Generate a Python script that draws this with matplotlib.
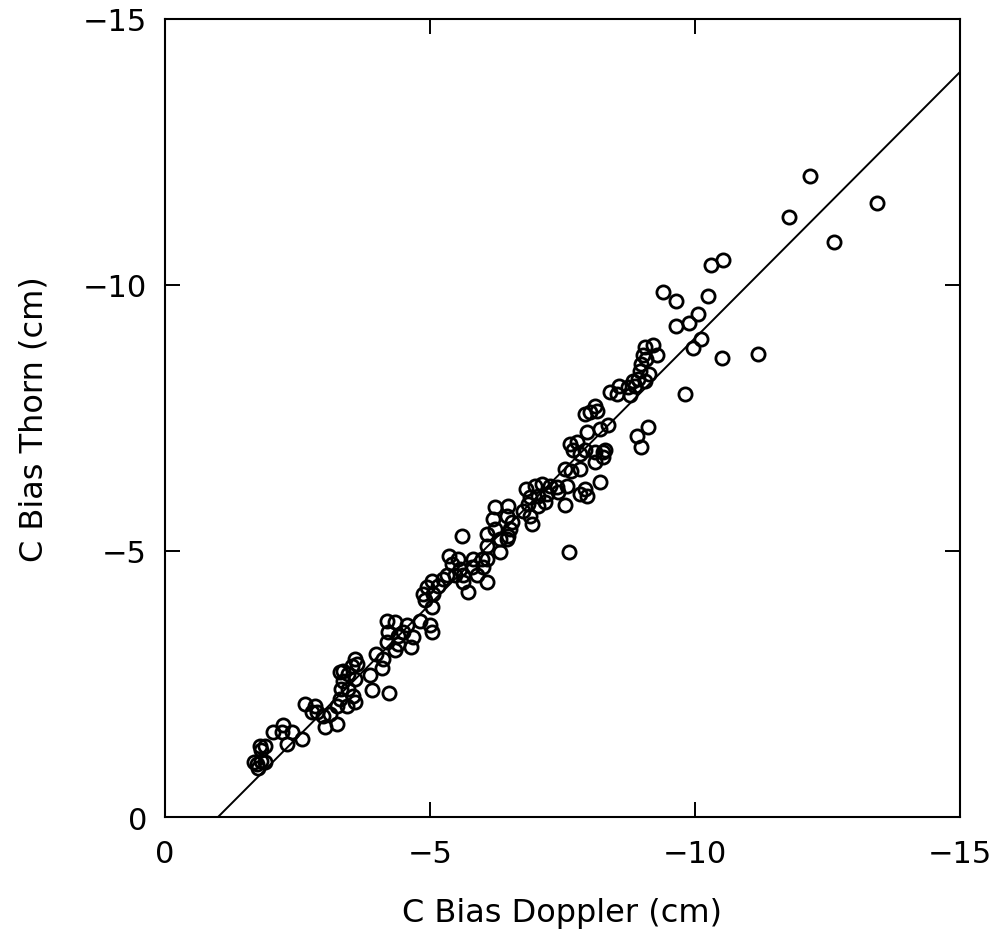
import matplotlib
matplotlib.use('Agg')
import matplotlib.pyplot as plt
import numpy as np

plt.rcParams['font.family'] = 'DejaVu Sans'

# C bias estimates (cm): Doppler vs Thorn
doppler = [
    -12.17, -13.44, -11.77, -12.62, -10.53, -10.31, -9.39, -9.65, -10.25, -10.06,
    -9.89, -9.64, -10.11, -9.97, -10.52, -11.20, -9.82,
    -9.20, -9.06, -9.29, -9.02, -9.08, -8.99, -8.96, -9.14, -8.93, -8.84,
    -8.87, -8.74, -8.57, -8.53, -8.40, -8.77, -8.11, -8.15, -7.92, -8.02,
    -7.96, -8.21, -8.36, -8.90, -9.12, -8.98, -7.92, -8.11, -8.27, -8.11,
    -7.64, -7.77, -7.70, -7.83, -8.30, -8.27, -7.55, -7.67, -7.83, -8.21,
    -6.82, -6.98, -7.11, -7.26, -7.39, -7.58, -7.42, -7.20, -7.04, -6.89,
    -7.83, -7.92, -7.96, -7.55, -7.17, -7.04, -6.85, -6.76, -6.89, -6.92,
    -6.23, -6.48, -6.19, -6.45, -6.54, -6.23, -6.07, -6.48, -6.32, -6.07,
    -6.32, -7.63,
    -5.60, -6.51, -6.45, -6.07, -5.98, -5.82, -5.79, -5.88, -6.07, -6.01,
    -5.35, -5.53, -5.41, -5.57, -5.32, -5.47, -5.63, -5.63, -5.72, -5.03,
    -5.25, -4.94, -5.16, -4.87, -5.06, -4.91, -5.03, -4.18, -4.34, -4.56,
    -4.81, -5.00, -5.03, -4.21, -4.40, -4.68, -4.18, -4.40,
    -4.50, -4.65, -4.34, -3.99, -4.12, -4.09, -3.87, -3.58, -3.62, -3.52,
    -3.36, -3.30, -3.46, -3.58, -3.36, -3.46, -3.33, -3.55, -3.58, -3.43,
    -3.30, -3.24, -3.90, -4.23, -2.64, -2.83, -2.86, -2.99, -3.11, -3.02,
    -3.24, -2.77, -2.04, -2.23, -2.20, -2.39, -2.30, -2.58, -1.79, -1.89,
    -1.82, -1.67, -1.73, -1.82, -1.89, -1.76, -9.06,
]
thorn = [
    -12.04, -11.55, -11.27, -10.81, -10.47, -10.38, -9.86, -9.70, -9.79, -9.45,
    -9.29, -9.23, -8.98, -8.81, -8.63, -8.70, -7.96,
    -8.87, -8.83, -8.68, -8.68, -8.61, -8.52, -8.39, -8.33, -8.23, -8.20,
    -8.11, -8.08, -8.11, -7.95, -7.98, -7.93, -7.73, -7.64, -7.58, -7.61,
    -7.23, -7.29, -7.36, -7.17, -7.33, -6.95, -6.89, -6.86, -6.86, -6.68,
    -7.01, -7.04, -6.89, -6.82, -6.89, -6.76, -6.54, -6.51, -6.54, -6.29,
    -6.17, -6.23, -6.26, -6.23, -6.20, -6.23, -6.10, -6.07, -6.04, -6.01,
    -6.07, -6.17, -6.04, -5.86, -5.92, -5.85, -5.88, -5.76, -5.66, -5.51,
    -5.82, -5.85, -5.60, -5.66, -5.54, -5.41, -5.32, -5.29, -5.23, -5.10,
    -4.98, -4.98,
    -5.29, -5.41, -5.23, -4.85, -4.85, -4.85, -4.69, -4.54, -4.41, -4.69,
    -4.91, -4.85, -4.76, -4.66, -4.54, -4.54, -4.54, -4.41, -4.22, -4.44,
    -4.47, -4.32, -4.35, -4.19, -4.19, -4.07, -3.94, -3.69, -3.66, -3.60,
    -3.69, -3.60, -3.47, -3.47, -3.41, -3.38, -3.28, -3.25,
    -3.47, -3.19, -3.13, -3.06, -2.97, -2.81, -2.66, -2.97, -2.88, -2.84,
    -2.75, -2.72, -2.69, -2.59, -2.56, -2.41, -2.41, -2.28, -2.16, -2.09,
    -2.22, -2.09, -2.39, -2.33, -2.12, -2.09, -1.97, -1.90, -1.94, -1.69,
    -1.75, -1.97, -1.59, -1.72, -1.59, -1.59, -1.37, -1.47, -1.34, -1.34,
    -1.25, -1.03, -1.00, -1.06, -1.03, -0.93, -8.20,
]

# fitted line: Thorn = Doppler + 1
fit_x = np.array([-1.0, -15.0])
fit_y = fit_x + 1.0

fig = plt.figure(figsize=(9.96, 9.37), dpi=100)
ax = fig.add_axes([0.1657, 0.127, 0.798, 0.8517])

ax.plot(fit_x, fit_y, color='black', linewidth=1.4)
ax.plot(doppler, thorn, linestyle='none', marker='o', markersize=9.5,
        markerfacecolor='none', markeredgecolor='black', markeredgewidth=2.0)

ax.set_xlim(0, -15)
ax.set_ylim(0, -15)
ax.set_xticks([0, -5, -10, -15])
ax.set_yticks([0, -5, -10, -15])
ax.set_xticklabels(['0', '\u22125', '\u221210', '\u221215'])
ax.set_yticklabels(['0', '\u22125', '\u221210', '\u221215'])

ax.tick_params(axis='both', direction='in', length=11, width=1.4,
               labelsize=22, top=True, right=True)
ax.tick_params(axis='x', pad=16)
ax.tick_params(axis='y', pad=13)
for s in ax.spines.values():
    s.set_linewidth(1.5)

ax.set_xlabel('C Bias Doppler (cm)', fontsize=23, labelpad=21)
ax.set_ylabel('C Bias Thorn (cm)', fontsize=23, labelpad=24)

fig.savefig('out.png', dpi=100)
